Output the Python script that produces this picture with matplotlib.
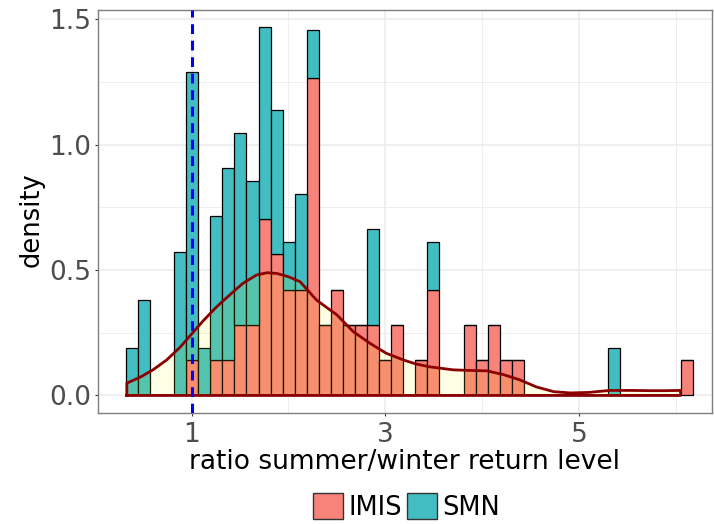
import matplotlib
matplotlib.use("Agg")
import matplotlib.pyplot as plt
from matplotlib.patches import Patch
import numpy as np

# histogram bins (left edge of first bin, bin width)
bin_start = 0.32
bin_width = 0.1246

# stacked density per bin (47 bins)
imis = [0, 0, 0, 0, 0, 0.141, 0, 0.141, 0.141, 0.282,
        0.282, 0.704, 0.563, 0.422, 0.422, 1.267, 0.282, 0.422, 0.282, 0.282,
        0.282, 0.141, 0.282, 0, 0.141, 0.422, 0, 0, 0.282, 0.141,
        0.282, 0.141, 0.141, 0, 0, 0, 0, 0, 0, 0,
        0, 0, 0, 0, 0, 0, 0.141]
smn = [0.191, 0.382, 0, 0, 0.573, 1.146, 0.191, 0.573, 0.764, 0.764,
       0.573, 0.764, 0.573, 0.191, 0.382, 0.191, 0, 0, 0, 0,
       0.382, 0, 0, 0, 0, 0.191, 0, 0, 0, 0,
       0, 0, 0, 0, 0, 0, 0, 0, 0, 0,
       0.191, 0, 0, 0, 0, 0, 0]

# density curve
dens_x = [0.33, 0.47, 0.60, 0.74, 0.88, 1.00, 1.12, 1.26, 1.40, 1.53,
          1.67, 1.78, 1.88, 2.00, 2.12, 2.29, 2.50, 2.67, 2.84, 3.01,
          3.19, 3.32, 3.46, 3.70, 3.84, 4.05, 4.22, 4.39, 4.56, 4.74,
          4.91, 5.10, 5.32, 5.55, 5.73, 5.90, 6.05]
dens_y = [0.049, 0.073, 0.102, 0.141, 0.192, 0.245, 0.298, 0.354, 0.403, 0.447,
          0.480, 0.489, 0.486, 0.473, 0.453, 0.380, 0.321, 0.254, 0.208, 0.168,
          0.141, 0.125, 0.114, 0.102, 0.100, 0.098, 0.083, 0.062, 0.034, 0.015,
          0.010, 0.012, 0.020, 0.020, 0.019, 0.019, 0.020]

xticks = [1, 3, 5]
yticks = [0.0, 0.5, 1.0, 1.5]
groups = ["IMIS", "SMN"]
red = "#F7837B"
teal = "#42BEC2"

fig = plt.figure(figsize=(7.14, 5.24), dpi=100)
ax = fig.add_axes([97.7/714, 1 - 412.5/524, (712 - 97.7)/714, (412.5 - 10)/524])

lefts = bin_start + bin_width*np.arange(len(imis))
ax.bar(lefts, imis, width=bin_width, align="edge", color=red,
       edgecolor="black", linewidth=0.9, zorder=2)
ax.bar(lefts, smn, width=bin_width, bottom=imis, align="edge", color=teal,
       edgecolor="black", linewidth=0.9, zorder=2)

# density area + outline
ax.fill_between(dens_x, dens_y, 0, color="yellow", alpha=0.1, linewidth=0, zorder=3)
ox = [dens_x[0]] + dens_x + [dens_x[-1], dens_x[0]]
oy = [0] + dens_y + [0, 0]
ax.plot(ox, oy, color="#8B0000", linewidth=2.0, zorder=4, solid_joinstyle="round")

ax.axvline(1, color="#0000FF", linewidth=2.2, linestyle=(0, (3.2, 2.2)), zorder=5)

ax.set_xlim(0.029, 6.375)
ax.set_ylim(-0.068, 1.536)
ax.set_xticks(xticks)
ax.set_xticklabels([str(t) for t in xticks])
ax.set_yticks(yticks)
ax.set_yticklabels(["%.1f" % t for t in yticks])
ax.set_xticks([2, 4, 6], minor=True)
ax.set_yticks([0.25, 0.75, 1.25], minor=True)
ax.tick_params(which="minor", length=0)
ax.tick_params(which="major", length=2.5, width=0.8, color="#333333",
               labelsize=19, labelcolor="#4D4D4D")
ax.tick_params(axis="x", pad=4.7)
ax.tick_params(axis="y", pad=2)
ax.grid(which="major", color="#EBEBEB", linewidth=1.1)
ax.grid(which="minor", color="#EBEBEB", linewidth=0.6)
ax.set_axisbelow(True)
for s in ax.spines.values():
    s.set_color("#7F7F7F")
    s.set_linewidth(1.0)

fig.text(404.9/714, 1 - 469/524, "ratio summer/winter return level",
         ha="center", va="baseline", fontsize=19)
fig.text(32/714, 1 - 220/524, "density", rotation=90, ha="center", va="center",
         fontsize=18.5)

handles = [Patch(facecolor=red, edgecolor="#333333", linewidth=1.0),
           Patch(facecolor=teal, edgecolor="#333333", linewidth=1.0)]
fig.legend(handles, groups, loc="center", bbox_to_anchor=(406.7/714, 1 - 506.7/524),
           ncol=2, frameon=False, fontsize=18.5, handlelength=1.17, handleheight=1.17,
           handletextpad=0.2, columnspacing=0.2, borderpad=0, borderaxespad=0)

fig.savefig("out.png", dpi=100)
